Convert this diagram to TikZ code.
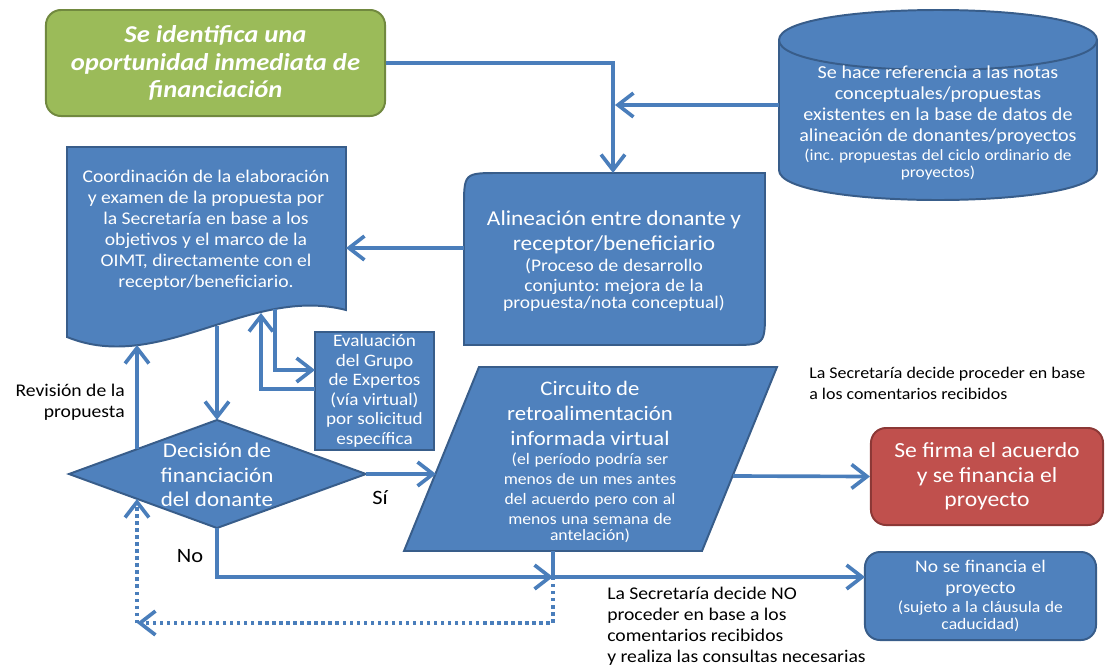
\documentclass[tikz,border=0pt]{standalone}
\usepackage{fontspec}
\setmainfont{Carlito}[FakeStretch=1.1]
\usepackage[HTML]{xcolor}
\usepackage{tikz}
\usetikzlibrary{positioning, arrows.meta}
\frenchspacing

\definecolor{fillblue}{HTML}{4F81BD}
\definecolor{edgeblue}{HTML}{385D8A}
\definecolor{fillgreen}{HTML}{9BBB59}
\definecolor{edgegreen}{HTML}{71893F}
\definecolor{fillred}{HTML}{C0504D}
\definecolor{edgered}{HTML}{8C3836}
\definecolor{linkblue}{HTML}{4A7EBB}

\tikzset{
  shapebox/.style={fill=fillblue, draw=edgeblue, line width=1.4pt},
  boxtext/.style={text=white, align=center, inner sep=0pt},
  flow/.style={draw=linkblue, line width=2.6pt, -{Straight Barb[length=11pt,width=17pt]}},
  flowplain/.style={draw=linkblue, line width=2.6pt},
  flowdot/.style={flow, dash pattern=on 2.4pt off 2.6pt},
  note/.style={text=black, inner sep=0pt, font=\fontsize{12.7}{14.9}\selectfont},
}

\begin{document}
\begin{tikzpicture}[x=0.025cm, y=-0.025cm]
\useasboundingbox (0,0) rectangle (1118,666);

% document shape with wavy bottom
\filldraw[shapebox] (67,147) -- (346,147) -- (346,310) .. controls (250,285) and (160,375) .. (67,337) -- cycle;

% database cylinder
\filldraw[shapebox] (779,40) .. controls (779,0) and (1097,0) .. (1097,40) -- (1097,170) .. controls (1097,210) and (779,210) .. (779,170) -- cycle;
\draw[edgeblue, line width=1.4pt] (779,40) .. controls (779,80) and (1097,80) .. (1097,40);

% alignment box, two round corners
\filldraw[shapebox] (464,345) -- (464,208) .. controls (464,173) .. (499,173) -- (765,173) -- (765,310) .. controls (765,345) .. (730,345) -- cycle;

% decision diamond
\filldraw[shapebox] (69,474) -- (217,420) -- (366,474) -- (217,528) -- cycle;

% feedback parallelogram
\filldraw[shapebox] (479,367) -- (777,367) -- (702,551) -- (404,551) -- cycle;

% boxes
\node[boxtext, fill=fillgreen, draw=edgegreen, line width=1.4pt, rounded corners=0.375cm,
      minimum width=8.475cm, minimum height=2.65cm,
      font=\fontsize{17.2}{19.6}\selectfont\bfseries\itshape] (ident) at (215.5,63)
  {Se identifica una\\oportunidad inmediata de\\financiación};
\node[boxtext, shapebox, minimum width=2.975cm, minimum height=2.95cm,
      font=\fontsize{12.4}{13.9}\selectfont] (expert) at (374.5,391)
  {Evaluación\\del Grupo\\de Expertos\\(vía virtual)\\por solicitud\\específica};
\node[boxtext, fill=fillred, draw=edgered, line width=1.4pt, rounded corners=0.375cm,
      minimum width=5.8cm, minimum height=2.425cm,
      font=\fontsize{15.3}{17.4}\selectfont] (signed) at (987,476.5)
  {Se firma el acuerdo\\y se financia el\\proyecto};
\node[boxtext, shapebox, rounded corners=0.375cm, minimum width=5.775cm, minimum height=2.2cm,
      text width=5.4cm] (nofund) at (980.5,596)
  {\fontsize{12.6}{15}\selectfont No se financia el\\proyecto\par
   \fontsize{11.4}{13.9}\selectfont (sujeto a la cláusula de\\caducidad)};

% texts in the drawn shapes
\node[boxtext, font=\fontsize{12.7}{14.9}\selectfont] (coord) at (206,230)
  {Coordinación de la elaboración\\y examen de la propuesta por\\la Secretaría en base a los\\objetivos y el marco de la\\OIMT, directamente con el\\receptor/beneficiario.};
\node[boxtext, text width=7.6cm] (dbtext) at (938,123)
  {\fontsize{13}{14.9}\selectfont Se hace referencia a las notas\\conceptuales/propuestas\\existentes en la base de datos de\\alineación de donantes/proyectos\par
   \fontsize{11.2}{13.5}\selectfont (inc. propuestas del ciclo ordinario de\\proyectos)};
\node[boxtext, text width=7.4cm] (align) at (614,261)
  {\fontsize{15.1}{17.8}\selectfont Alineación entre donante y\\receptor/beneficiario\par
   \fontsize{12.6}{14.9}\selectfont (Proceso de desarrollo\\conjunto: mejora de la\\propuesta/nota conceptual)};
\node[boxtext, font=\fontsize{14.9}{17.4}\selectfont] (decide) at (217,475)
  {Decisión de\\financiación\\del donante};
\node[boxtext, text width=6.5cm] (loop) at (590,462)
  {\fontsize{14.7}{17.8}\selectfont Circuito de\\retroalimentación\\informada virtual\par
   \fontsize{11.4}{14}\selectfont (el período podría ser\\menos de un mes antes\\del acuerdo pero con al\\menos una semana de\\antelación)};

% labels
\node[note, anchor=west, align=left, font=\fontsize{11.6}{14.9}\selectfont] (proceed) at (809,383.5)
  {La Secretaría decide proceder en base\\a los comentarios recibidos};
\node[note, anchor=west, align=left] (stop) at (607,626.5)
  {La Secretaría decide NO\\proceder en base a los\\comentarios recibidos\\y realiza las consultas necesarias};
\node[note, anchor=east, align=right] (revise) at (125,402) {Revisión de la\\propuesta};
\node[note, font=\fontsize{14.5}{16}\selectfont] (yes) at (380,498) {Sí};
\node[note, font=\fontsize{14.5}{16}\selectfont] (no) at (190,556) {No};

% connector ends on the drawn shapes
\coordinate (alignN) at (613,173);
\coordinate (alignW) at (464,248);
\coordinate (dbW) at (779,105);
\coordinate (dbjoin) at (615,105);
\coordinate (docE) at (346,248);
\coordinate (docS1) at (275,309);
\coordinate (docS2) at (261,313);
\coordinate (docS3) at (217,326);
\coordinate (docS4) at (137,345);
\coordinate (expW1) at (315,370);
\coordinate (expW2) at (315,389);
\coordinate (decN) at (217,420);
\coordinate (decE) at (366,474);
\coordinate (decS) at (217,528);
\coordinate (decUL) at (137,449);
\coordinate (decLL) at (137,499);
\coordinate (loopW) at (436,474);
\coordinate (loopE) at (733,476);
\coordinate (loopS) at (553,551);
\coordinate (junc) at (553,577);
\coordinate (back) at (137,623);
\coordinate (nofundW) at (865,577);

% connectors
\draw[flow] (ident.east) -| (alignN);
\draw[flow] (dbW) -- (dbjoin);
\draw[flow] (alignW) -- (docE);
\draw[flow] (docS1) |- (expW1);
\draw[flow] (expW2) -| (docS2);
\draw[flow] (docS3) -- (decN);
\draw[flow] (decUL) -- (docS4);
\draw[flow] (decE) -- (loopW);
\draw[flow] (loopE) -- (signed.west);
\draw[flow] (decS) |- (junc);
\draw[flowplain] (loopS) -- (junc);
\draw[flow] (junc) -- (nofundW);
\draw[flowdot] (junc) |- (back);
\draw[flowdot] (back) -- (decLL);
\end{tikzpicture}
\end{document}
